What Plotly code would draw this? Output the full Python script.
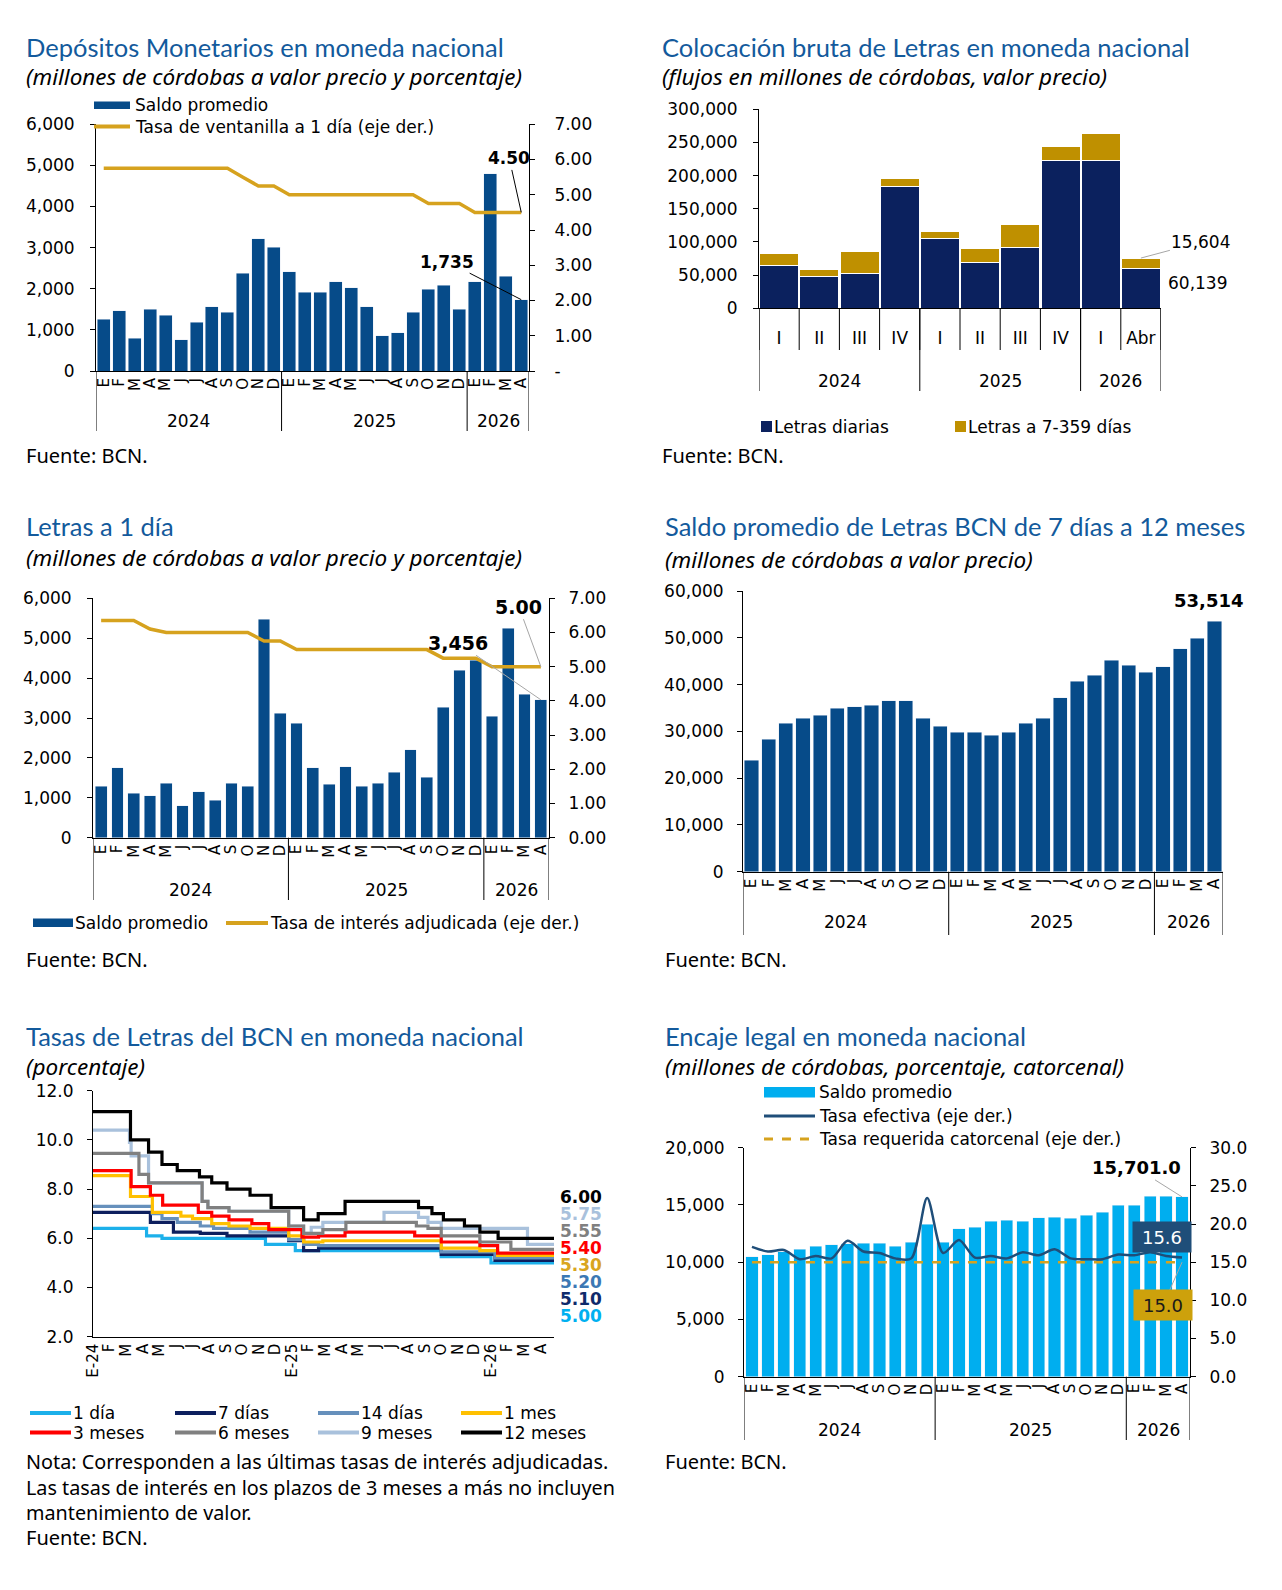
import plotly.graph_objects as go

# ---- datos ----
meses = ['E', 'F', 'M', 'A', 'M', 'J', 'J', 'A', 'S', 'O', 'N', 'D',
         'E', 'F', 'M', 'A', 'M', 'J', 'J', 'A', 'S', 'O', 'N', 'D',
         'E', 'F', 'M', 'A']
anios = ['2024', '2025', '2026']
meses_por_anio = [12, 12, 4]

# Depósitos monetarios
dep_saldo = [1255, 1460, 795, 1500, 1355, 755, 1185, 1565, 1425, 2375, 3220, 3010,
             2410, 1915, 1915, 2165, 2020, 1565, 860, 930, 1425, 1985, 2090, 1500,
             2165, 4800, 2305, 1735]
dep_tasa = [5.75, 5.75, 5.75, 5.75, 5.75, 5.75, 5.75, 5.75, 5.75, 5.50, 5.25, 5.25,
            5.00, 5.00, 5.00, 5.00, 5.00, 5.00, 5.00, 5.00, 5.00, 4.75, 4.75, 4.75,
            4.50, 4.50, 4.50, 4.50]

# Colocación bruta de Letras
trimestres = ['I', 'II', 'III', 'IV', 'I', 'II', 'III', 'IV', 'I', 'Abr']
trim_por_anio = [4, 4, 2]
letras_diarias = [64820, 48240, 52260, 183420, 104520, 68840, 91960, 223120, 223120, 60139]
letras_7_359 = [17080, 10550, 33670, 12560, 10550, 21100, 33670, 20600, 40200, 15604]

# Letras a 1 día
l1_saldo = [1295, 1755, 1110, 1045, 1370, 795, 1155, 935, 1370, 1295, 5475, 3125,
            2865, 1755, 1335, 1780, 1295, 1370, 1640, 2200, 1520, 3265, 4195, 4445,
            3040, 5250, 3600, 3456]
l1_tasa = [6.35, 6.35, 6.35, 6.10, 6.00, 6.00, 6.00, 6.00, 6.00, 6.00, 5.75, 5.75,
           5.50, 5.50, 5.50, 5.50, 5.50, 5.50, 5.50, 5.50, 5.50, 5.25, 5.25, 5.25,
           5.00, 5.00, 5.00, 5.00]

# Saldo Letras 7 días a 12 meses
l7_saldo = [23870, 28290, 31780, 32780, 33420, 34990, 35270, 35630, 36560, 36560, 32780, 31140,
            29860, 29860, 29220, 29860, 31780, 32780, 37200, 40690, 41970, 45180, 44180, 42610,
            43830, 47680, 49890, 53514]

# Tasas de Letras: mes (E-24 = 0) en que cambia la tasa y nueva tasa
meses_tasas = ['E-24', 'F', 'M', 'A', 'M', 'J', 'J', 'A', 'S', 'O', 'N', 'D',
               'E-25', 'F', 'M', 'A', 'M', 'J', 'J', 'A', 'S', 'O', 'N', 'D',
               'E-26', 'F', 'M', 'A']
t_fin = 27.8
t1d_x = [0, 3.23, 4.16, 10.4, 12.2, 21.0, 24.0]
t1d_y = [6.40, 6.10, 6.00, 5.75, 5.50, 5.25, 5.00]
t7d_x = [0, 3.46, 4.85, 6.47, 8.08, 11.8, 12.7, 13.6, 21.0, 24.24]
t7d_y = [7.05, 6.65, 6.25, 6.20, 6.10, 5.90, 5.50, 5.60, 5.35, 5.10]
t14d_x = [0, 3.58, 4.16, 5.08, 6.47, 7.27, 9.47, 11.8, 12.7, 13.6, 21.0, 24.24]
t14d_y = [7.30, 7.00, 6.80, 6.65, 6.50, 6.40, 6.25, 5.95, 5.75, 5.70, 5.45, 5.20]
t1m_x = [0, 2.26, 3.58, 5.3, 6.0, 7.16, 8.2, 9.47, 11.8, 12.7, 13.86, 21.0, 23.33, 24.4]
t1m_y = [8.55, 7.70, 7.05, 6.90, 6.80, 6.60, 6.50, 6.40, 6.10, 5.85, 5.90, 5.60, 5.50, 5.30]
t3m_x = [0, 2.3, 3.46, 4.2, 6.35, 7.16, 8.2, 9.58, 10.6, 12.6, 13.6, 15.2, 19.4, 21.0, 23.33, 24.4]
t3m_y = [8.75, 8.10, 7.75, 7.35, 7.05, 6.90, 6.75, 6.60, 6.35, 6.05, 6.10, 6.25, 6.10, 5.85, 5.70, 5.40]
t6m_x = [0, 2.77, 3.35, 6.58, 6.93, 8.2, 11.8, 12.7, 13.86, 15.25, 19.5, 20.2, 21.0, 23.33, 25.2]
t6m_y = [9.45, 8.60, 8.25, 7.50, 7.25, 7.10, 6.50, 6.20, 6.35, 6.65, 6.50, 6.40, 6.10, 5.85, 5.55]
t9m_x = [0, 2.2, 2.3, 3.35, 6.58, 6.93, 8.2, 11.8, 12.7, 13.16, 13.86, 17.55, 19.63, 20.2, 21.0, 26.2]
t9m_y = [10.40, 9.90, 9.35, 8.25, 7.50, 7.25, 7.10, 6.50, 6.20, 6.45, 6.65, 7.05, 6.85, 6.65, 6.40, 5.75]
t12m_x = [0, 2.26, 3.35, 4.16, 5.08, 6.42, 7.16, 8.08, 9.47, 10.74, 12.7, 13.58, 15.2, 19.63,
          20.44, 21.13, 22.4, 23.33, 24.43]
t12m_y = [11.15, 10.00, 9.50, 9.00, 8.75, 8.50, 8.25, 8.00, 7.75, 7.25, 6.75, 7.00, 7.50, 7.25,
          7.00, 6.75, 6.50, 6.25, 6.00]

# Encaje legal
enc_saldo = [10480, 10630, 10900, 11150, 11410, 11530, 11600, 11640, 11640, 11410, 11760, 13330,
             11760, 12930, 13070, 13570, 13680, 13570, 13860, 13940, 13830, 14090, 14350, 14990,
             14990, 15780, 15780, 15701.0]
enc_efectiva = [17.0, 16.4, 16.6, 15.4, 15.8, 15.5, 17.8, 16.4, 16.2, 15.5, 15.5, 23.4,
                16.2, 17.9, 15.6, 15.8, 15.5, 16.3, 15.9, 16.7, 15.5, 15.4, 15.4, 16.0,
                15.9, 16.3, 15.8, 15.6]
enc_requerida = [15.0, 15.0, 15.0, 15.0, 15.0, 15.0, 15.0, 15.0, 15.0, 15.0, 15.0, 15.0,
                 15.0, 15.0, 15.0, 15.0, 15.0, 15.0, 15.0, 15.0, 15.0, 15.0, 15.0, 15.0,
                 15.0, 15.0, 15.0, 15.0]

# ---- estilo ----
TXT = 'DejaVu Sans'
TIT = 'Lato'
SUB = 'Noto Sans'
AZUL_TIT = '#135A9C'
AZUL = '#064B89'
ORO = '#D6A21E'
NAVY = '#0B215E'
ORO2 = '#BF9000'
CIAN = '#00AEEF'
AZUL_LINEA = '#1F4E79'
GRIS = '#A6A6A6'

FW, FH = 1282, 1590


def px(x):
    return x / FW


def py(y):
    return 1 - y / FH


fig = go.Figure()


def texto(x, y, s, size=17, family=TXT, color='black', anchor='left'):
    fig.add_annotation(x=px(x), y=py(y), xref='paper', yref='paper', text=s, showarrow=False,
                       xanchor=anchor, yanchor='middle', borderpad=0,
                       font=dict(family=family, size=size, color=color))


def rect(x0, x1, y0, y1, color):
    fig.add_shape(type='rect', xref='paper', yref='paper', x0=px(x0), x1=px(x1),
                  y0=py(y0), y1=py(y1), fillcolor=color, line=dict(width=0))


def linea(x0, x1, y, color, width=4, dash='solid'):
    fig.add_shape(type='line', xref='paper', yref='paper', x0=px(x0), x1=px(x1),
                  y0=py(y), y1=py(y), line=dict(color=color, width=width, dash=dash))


def cortes(grupos):
    c = [-0.5]
    for n in grupos:
        c.append(c[-1] + n)
    return c


def separadores(xref, cuts, y_eje, y_fin):
    for c in cuts:
        fig.add_shape(type='line', xref=xref, yref='paper', x0=c, x1=c,
                      y0=py(y_eje), y1=py(y_fin), line=dict(color='black', width=1))


def etiquetas_anio(xref, grupos, y):
    c = cortes(grupos)
    for a, l, r in zip(anios, c[:-1], c[1:]):
        fig.add_annotation(x=(l + r) / 2, y=py(y), xref=xref, yref='paper', text=a,
                           showarrow=False, xanchor='center', yanchor='middle',
                           font=dict(family=TXT, size=17, color='black'))


def eje_y(top, bottom, rng, dtick, fmt=',', side='left', anchor='x', standoff=10, **kw):
    d = dict(domain=[py(bottom), py(top)], range=rng, dtick=dtick, tickformat=fmt,
             showline=True, linecolor='black', linewidth=1, ticks='outside', ticklen=5,
             tickcolor='black', showgrid=False, zeroline=False, side=side, anchor=anchor,
             automargin=False, ticklabelstandoff=standoff,
             tickfont=dict(family=TXT, size=17, color='black'))
    d.update(kw)
    return d


def eje_x(left, right, rng, labels, anchor, angle=-90, size=15, **kw):
    d = dict(domain=[px(left), px(right)], range=rng, tickvals=list(range(len(labels))),
             ticktext=labels, tickangle=angle, showline=True, linecolor='black', linewidth=1,
             ticks='', showgrid=False, zeroline=False, anchor=anchor, automargin=False,
             tickfont=dict(family=TXT, size=size, color='black'))
    d.update(kw)
    return d


idx = list(range(len(meses)))
rng_m = [-0.5, len(meses) - 0.5]
cortes_m = cortes(meses_por_anio)

# ---------- Panel 1: Depósitos Monetarios ----------
fig.add_trace(go.Bar(x=idx, y=dep_saldo, width=0.84, marker_color=AZUL, xaxis='x', yaxis='y'))
fig.add_trace(go.Scatter(x=idx, y=dep_tasa, mode='lines', line=dict(color=ORO, width=3.5),
                         xaxis='x', yaxis='y2'))
texto(25, 47, 'Depósitos Monetarios en moneda nacional', 25.5, TIT, AZUL_TIT)
texto(25, 77, '<i>(millones de córdobas a valor precio y porcentaje)</i>', 22.5, SUB)
rect(94, 130, 101.5, 109, AZUL)
texto(134, 105, 'Saldo promedio')
linea(94, 130, 126.5, ORO, 4)
texto(134, 127, 'Tasa de ventanilla a 1 día (eje der.)')
separadores('x', cortes_m, 371, 431)
etiquetas_anio('x', meses_por_anio, 421)
texto(25, 456, 'Fuente: BCN.', 20, SUB)
fig.add_annotation(x=idx[-1], y=dep_tasa[-1], xref='x', yref='y2',
                   text=f'<b>{dep_tasa[-1]:.2f}</b>', showarrow=True, arrowhead=0,
                   arrowwidth=1, arrowcolor='black', ax=-12, ay=-54,
                   font=dict(family=TXT, size=17, color='black'))
fig.add_annotation(x=idx[-1], y=dep_saldo[-1], xref='x', yref='y',
                   text=f'<b>{dep_saldo[-1]:,}</b>', showarrow=True, arrowhead=0,
                   arrowwidth=1, arrowcolor='black', ax=-74, ay=-38,
                   font=dict(family=TXT, size=17, color='black'))

# ---------- Panel 2: Colocación bruta ----------
iq = list(range(len(trimestres)))
fig.add_trace(go.Bar(x=iq, y=letras_diarias, width=0.97, marker=dict(color=NAVY, line=dict(color='white', width=1)),
                     xaxis='x2', yaxis='y3'))
fig.add_trace(go.Bar(x=iq, y=letras_7_359, width=0.97, marker=dict(color=ORO2, line=dict(color='white', width=1)),
                     xaxis='x2', yaxis='y3'))
texto(661, 47, 'Colocación bruta de Letras en moneda nacional', 25.5, TIT, AZUL_TIT)
texto(661, 77, '<i>(flujos en millones de córdobas, valor precio)</i>', 22.5, SUB)
separadores('x2', cortes([1] * len(trimestres)), 308.3, 350)
separadores('x2', cortes(trim_por_anio), 308.3, 391)
etiquetas_anio('x2', trim_por_anio, 381)
rect(761, 772, 421, 432, NAVY)
texto(773, 427, 'Letras diarias')
rect(955, 966, 421, 432, ORO2)
texto(967, 427, 'Letras a 7-359 días')
texto(661, 456, 'Fuente: BCN.', 20, SUB)
fig.add_annotation(x=iq[-1], y=letras_diarias[-1] + letras_7_359[-1], xref='x2', yref='y3',
                   text=f'{letras_7_359[-1]:,}', showarrow=True, arrowhead=0, arrowwidth=1,
                   arrowcolor=GRIS, ax=60, ay=-16, font=dict(family=TXT, size=17, color='black'))
texto(1167, 283, f'{letras_diarias[-1]:,}')

# ---------- Panel 3: Letras a 1 día ----------
fig.add_trace(go.Bar(x=idx, y=l1_saldo, width=0.72, marker_color=AZUL, xaxis='x3', yaxis='y4'))
fig.add_trace(go.Scatter(x=idx, y=l1_tasa, mode='lines', line=dict(color=ORO, width=3.5),
                         xaxis='x3', yaxis='y5'))
texto(25, 526, 'Letras a 1 día', 25.5, TIT, AZUL_TIT)
texto(25, 558, '<i>(millones de córdobas a valor precio y porcentaje)</i>', 22.5, SUB)
separadores('x3', cortes_m, 837.7, 900)
etiquetas_anio('x3', meses_por_anio, 890)
rect(33, 73, 918.5, 927, AZUL)
texto(74, 923, 'Saldo promedio')
linea(226, 268, 923, ORO, 4)
texto(269, 923, 'Tasa de interés adjudicada (eje der.)')
texto(25, 959, 'Fuente: BCN.', 20, SUB)
fig.add_annotation(x=idx[-1], y=l1_tasa[-1], xref='x3', yref='y5',
                   text=f'<b>{l1_tasa[-1]:.2f}</b>', showarrow=True, arrowhead=0,
                   arrowwidth=1, arrowcolor=GRIS, ax=-22, ay=-60,
                   font=dict(family=TXT, size=19, color='black'))
fig.add_annotation(x=idx[-1], y=l1_saldo[-1], xref='x3', yref='y4',
                   text=f'<b>{l1_saldo[-1]:,}</b>', showarrow=True, arrowhead=0,
                   arrowwidth=1, arrowcolor=GRIS, ax=-83, ay=-57,
                   font=dict(family=TXT, size=19, color='black'))

# ---------- Panel 4: Saldo Letras 7 días a 12 meses ----------
fig.add_trace(go.Bar(x=idx, y=l7_saldo, width=0.83, marker_color=AZUL, xaxis='x4', yaxis='y6'))
texto(664, 526, 'Saldo promedio de Letras BCN de 7 días a 12 meses', 25.5, TIT, AZUL_TIT)
texto(664, 559, '<i>(millones de córdobas a valor precio)</i>', 22.5, SUB)
separadores('x4', cortes_m, 871.7, 935)
etiquetas_anio('x4', meses_por_anio, 922)
texto(664, 959, 'Fuente: BCN.', 20, SUB)
fig.add_annotation(x=idx[-1], y=l7_saldo[-1], xref='x4', yref='y6',
                   text=f'<b>{l7_saldo[-1]:,}</b>', showarrow=False, yanchor='bottom',
                   yshift=8, xshift=-6, font=dict(family=TXT, size=18, color='black'))

# ---------- Panel 5: Tasas de Letras ----------
series = [
    ('1 día', t1d_x, t1d_y, '#1CB0EA', '#00B0F0'),
    ('7 días', t7d_x, t7d_y, '#0D1F5E', '#0F2A6B'),
    ('14 días', t14d_x, t14d_y, '#6690BC', '#3C78B4'),
    ('1 mes', t1m_x, t1m_y, '#FFC000', '#D9A520'),
    ('3 meses', t3m_x, t3m_y, '#FF0000', '#FF0000'),
    ('9 meses', t9m_x, t9m_y, '#A9C1DC', '#A9C1DC'),
    ('6 meses', t6m_x, t6m_y, '#808080', '#808080'),
    ('12 meses', t12m_x, t12m_y, '#000000', '#000000'),
]
for nombre, sx, sy, col, _ in series:
    fig.add_trace(go.Scatter(x=sx + [t_fin], y=sy + [sy[-1]], mode='lines', line_shape='hv',
                             line=dict(color=col, width=3.2), xaxis='x5', yaxis='y7', name=nombre))
texto(25, 1036, 'Tasas de Letras del BCN en moneda nacional', 25.5, TIT, AZUL_TIT)
texto(25, 1066, '<i>(porcentaje)</i>', 22.5, SUB)

# etiquetas finales ordenadas de mayor a menor
finales = sorted(series, key=lambda s: -s[2][-1])
for k, (nombre, sx, sy, col, col_txt) in enumerate(finales):
    texto(559, 1197 + k * 17, f'<b>{sy[-1]:.2f}</b>', 17, TXT, col_txt)

orden_ley = ['1 día', '7 días', '14 días', '1 mes', '3 meses', '6 meses', '9 meses', '12 meses']
col_ley = {s[0]: s[3] for s in series}
cols_x = [30, 175, 318, 461]
for k, nombre in enumerate(orden_ley):
    x0 = cols_x[k % 4]
    yy = 1413 + (k // 4) * 19.5
    linea(x0, x0 + 41, yy, col_ley[nombre], 4)
    texto(x0 + 42, yy, nombre)
texto(25, 1461, 'Nota: Corresponden a las últimas tasas de interés adjudicadas.', 19.8, SUB)
texto(25, 1487, 'Las tasas de interés en los plazos de 3 meses a más no incluyen', 19.8, SUB)
texto(25, 1512, 'mantenimiento de valor.', 19.8, SUB)
texto(25, 1537, 'Fuente: BCN.', 20, SUB)

# ---------- Panel 6: Encaje legal ----------
fig.add_trace(go.Bar(x=idx, y=enc_saldo, width=0.77, marker_color=CIAN, xaxis='x6', yaxis='y8'))
fig.add_trace(go.Scatter(x=idx, y=enc_requerida, mode='lines',
                         line=dict(color=ORO, width=2.5, dash='dash'), xaxis='x6', yaxis='y9'))
fig.add_trace(go.Scatter(x=idx, y=enc_efectiva, mode='lines', line_shape='spline',
                         line=dict(color=AZUL_LINEA, width=2.5, smoothing=0.8),
                         xaxis='x6', yaxis='y9'))
texto(664, 1036, 'Encaje legal en moneda nacional', 25.5, TIT, AZUL_TIT)
texto(664, 1066, '<i>(millones de córdobas, porcentaje, catorcenal)</i>', 22.5, SUB)
rect(764, 815, 1087, 1097.5, CIAN)
texto(818, 1092, 'Saldo promedio')
linea(764, 815, 1116, AZUL_LINEA, 3)
texto(818, 1116, 'Tasa efectiva (eje der.)')
linea(764, 815, 1139, ORO, 3, 'dash')
texto(818, 1139, 'Tasa requerida catorcenal (eje der.)')
separadores('x6', cortes_m, 1376.7, 1440)
etiquetas_anio('x6', meses_por_anio, 1430)
texto(664, 1461, 'Fuente: BCN.', 20, SUB)
fig.add_annotation(x=idx[-1], y=enc_saldo[-1], xref='x6', yref='y8',
                   text=f'<b>{enc_saldo[-1]:,.1f}</b>', showarrow=True, arrowhead=0,
                   arrowwidth=1, arrowcolor=GRIS, ax=-46, ay=-29,
                   font=dict(family=TXT, size=18, color='black'))
fig.add_annotation(x=idx[-1], y=enc_efectiva[-1], xref='x6', yref='y9',
                   text=f'{enc_efectiva[-1]:.1f}', showarrow=False, xshift=-20, yshift=21,
                   bgcolor=AZUL_LINEA, width=56, height=28,
                   font=dict(family=TXT, size=18, color='white'))
fig.add_annotation(x=idx[-1], y=enc_requerida[-1], xref='x6', yref='y9',
                   text=f'{enc_requerida[-1]:.1f}', showarrow=True, arrowhead=0, arrowwidth=1,
                   arrowcolor=GRIS, ax=-19, ay=43, bgcolor='#CDA10C', width=56, height=28,
                   font=dict(family=TXT, size=18, color='#1a1a1a'))

# ---------- ejes ----------
fig.update_layout(
    width=FW, height=FH, margin=dict(l=0, r=0, t=0, b=0, autoexpand=False), autosize=False,
    paper_bgcolor='white', plot_bgcolor='white', showlegend=False, barmode='stack',
    xaxis=eje_x(96, 529, rng_m, meses, 'y'),
    yaxis=eje_y(124.3, 371, [0, 6000], 1000, anchor='x', standoff=12),
    yaxis2=eje_y(124.3, 371, [0, 7], 1, side='right', anchor='x', overlaying='y', standoff=16,
                 tickvals=[0, 1, 2, 3, 4, 5, 6, 7],
                 ticktext=['-', '1.00', '2.00', '3.00', '4.00', '5.00', '6.00', '7.00']),
    xaxis2=eje_x(759, 1161, [-0.5, len(trimestres) - 0.5], trimestres, 'y3', angle=0, size=17,
                 ticklabelstandoff=14),
    yaxis3=eje_y(109.3, 308.3, [0, 300000], 50000, anchor='x2', standoff=12),
    xaxis3=eje_x(93, 549, rng_m, meses, 'y4'),
    yaxis4=eje_y(598.3, 837.7, [0, 6000], 1000, anchor='x3', standoff=12),
    yaxis5=eje_y(598.3, 837.7, [0, 7], 1, fmt='.2f', side='right', anchor='x3', overlaying='y4',
                 standoff=10),
    xaxis4=eje_x(743, 1223, rng_m, meses, 'y6'),
    yaxis6=eje_y(591, 871.7, [0, 60000], 10000, anchor='x4', standoff=10),
    xaxis5=eje_x(93, 554, [0, t_fin], meses_tasas, 'y7'),
    yaxis7=eje_y(1090.7, 1336.7, [2, 12], 2, fmt='.1f', anchor='x5', standoff=10),
    xaxis6=eje_x(744, 1190, rng_m, meses, 'y8'),
    yaxis8=eje_y(1147.7, 1376.7, [0, 20000], 5000, anchor='x6', standoff=10),
    yaxis9=eje_y(1147.7, 1376.7, [0, 30], 5, fmt='.1f', side='right', anchor='x6',
                 overlaying='y8', standoff=10),
)

fig.write_html('out.html', config={'displayModeBar': False},
               post_script="document.body.style.margin='0px';")
